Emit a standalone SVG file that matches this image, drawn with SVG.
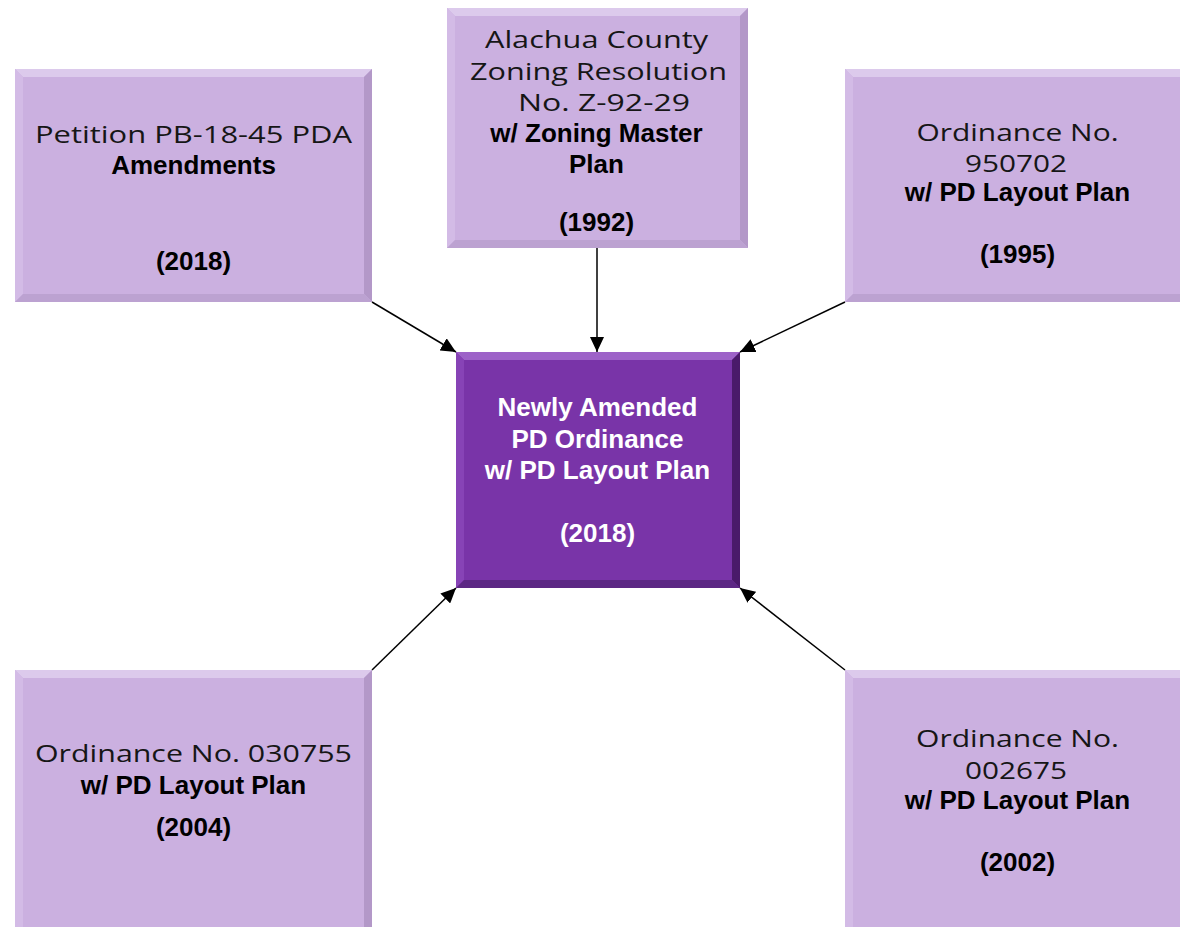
<svg xmlns="http://www.w3.org/2000/svg" width="1180" height="927" viewBox="0 0 1180 927">
<defs>
<marker id="arr" markerUnits="userSpaceOnUse" markerWidth="16" markerHeight="14" refX="15" refY="7" orient="auto">
<path d="M0,0 L15,7 L0,14 z" fill="#000"/>
</marker>
<style>
.lt{fill:#cbb0e0}.lt-t{fill:#dccaec}.lt-l{fill:#d3bbe6}.lt-r{fill:#b398c8}.lt-b{fill:#bca2d1}
.dk{fill:#7934a8}.dk-t{fill:#9d62c8}.dk-l{fill:#8743b6}.dk-r{fill:#4a1a6a}.dk-b{fill:#5c2784}
.reg{font-family:"Open Sans","DejaVu Sans",sans-serif;font-weight:400;font-size:23px;fill:#161616;text-anchor:middle}
.bld{font-family:"Liberation Sans",Arial,sans-serif;font-weight:bold;font-size:26px;fill:#000;text-anchor:middle}
.wht{font-family:"Liberation Sans",Arial,sans-serif;font-weight:bold;font-size:26px;fill:#fff;text-anchor:middle}
.conn{stroke:#000;stroke-width:1.5;fill:none;marker-end:url(#arr)}
</style>
</defs>
<rect width="1180" height="927" fill="#fff"/>

<g id="node-tl">
<rect class="lt" x="15" y="69" width="357" height="233"/>
<polygon class="lt-t" points="15,69 372,69 364,77 23,77"/>
<polygon class="lt-l" points="15,69 23,77 23,294 15,302"/>
<polygon class="lt-r" points="372,69 372,302 364,294 364,77"/>
<polygon class="lt-b" points="15,302 372,302 364,294 23,294"/>
<text class="reg" x="193.5" y="143" textLength="317" lengthAdjust="spacingAndGlyphs">Petition PB-18-45 PDA</text>
<text class="bld" x="193.5" y="174">Amendments</text>
<text class="bld" x="193.5" y="270">(2018)</text>
</g>

<g id="node-tc">
<rect class="lt" x="447" y="8" width="301" height="240"/>
<polygon class="lt-t" points="447,8 748,8 740,16 455,16"/>
<polygon class="lt-l" points="447,8 455,16 455,240 447,248"/>
<polygon class="lt-r" points="748,8 748,248 740,240 740,16"/>
<polygon class="lt-b" points="447,248 748,248 740,240 455,240"/>
<text class="reg" x="596.5" y="48" textLength="223" lengthAdjust="spacingAndGlyphs">Alachua County</text>
<text class="reg" x="598.5" y="80" textLength="257" lengthAdjust="spacingAndGlyphs">Zoning Resolution</text>
<text class="reg" x="604" y="111" textLength="172" lengthAdjust="spacingAndGlyphs">No. Z-92-29</text>
<text class="bld" x="596.5" y="142">w/ Zoning Master</text>
<text class="bld" x="596.5" y="173">Plan</text>
<text class="bld" x="596.5" y="231">(1992)</text>
</g>

<g id="node-tr">
<rect class="lt" x="845" y="69" width="345" height="233"/>
<polygon class="lt-t" points="845,69 1190,69 1182,77 853,77"/>
<polygon class="lt-l" points="845,69 853,77 853,294 845,302"/>
<polygon class="lt-b" points="845,302 1190,302 1182,294 853,294"/>
<text class="reg" x="1017.5" y="141" textLength="202" lengthAdjust="spacingAndGlyphs">Ordinance No.</text>
<text class="reg" x="1016" y="172" textLength="102" lengthAdjust="spacingAndGlyphs">950702</text>
<text class="bld" x="1017.5" y="201">w/ PD Layout Plan</text>
<text class="bld" x="1017.5" y="263">(1995)</text>
</g>

<g id="node-center">
<rect class="dk" x="456" y="352" width="284" height="236"/>
<polygon class="dk-t" points="456,352 740,352 732,360 464,360"/>
<polygon class="dk-l" points="456,352 464,360 464,580 456,588"/>
<polygon class="dk-r" points="740,352 740,588 732,580 732,360"/>
<polygon class="dk-b" points="456,588 740,588 732,580 464,580"/>
<text class="wht" x="597.5" y="416">Newly Amended</text>
<text class="wht" x="597.5" y="448">PD Ordinance</text>
<text class="wht" x="597.5" y="479">w/ PD Layout Plan</text>
<text class="wht" x="597.5" y="542">(2018)</text>
</g>

<g id="node-bl">
<rect class="lt" x="15" y="670" width="357" height="270"/>
<polygon class="lt-t" points="15,670 372,670 364,678 23,678"/>
<polygon class="lt-l" points="15,670 23,678 23,940 15,940"/>
<polygon class="lt-r" points="372,670 372,940 364,940 364,678"/>
<text class="reg" x="193.5" y="762" textLength="317" lengthAdjust="spacingAndGlyphs">Ordinance No. 030755</text>
<text class="bld" x="193.5" y="794">w/ PD Layout Plan</text>
<text class="bld" x="193.5" y="836">(2004)</text>
</g>

<g id="node-br">
<rect class="lt" x="845" y="670" width="345" height="270"/>
<polygon class="lt-t" points="845,670 1190,670 1182,678 853,678"/>
<polygon class="lt-l" points="845,670 853,678 853,940 845,940"/>
<text class="reg" x="1017.5" y="747" textLength="203" lengthAdjust="spacingAndGlyphs">Ordinance No.</text>
<text class="reg" x="1016" y="779" textLength="102" lengthAdjust="spacingAndGlyphs">002675</text>
<text class="bld" x="1017.5" y="809">w/ PD Layout Plan</text>
<text class="bld" x="1017.5" y="871">(2002)</text>
</g>

<g id="connectors">
<line class="conn" x1="372" y1="302" x2="456" y2="352"/>
<line class="conn" x1="597" y1="248" x2="597" y2="352"/>
<line class="conn" x1="845" y1="302" x2="740" y2="352"/>
<line class="conn" x1="372" y1="670" x2="456" y2="588"/>
<line class="conn" x1="845" y1="670" x2="740" y2="588"/>
</g>
</svg>
